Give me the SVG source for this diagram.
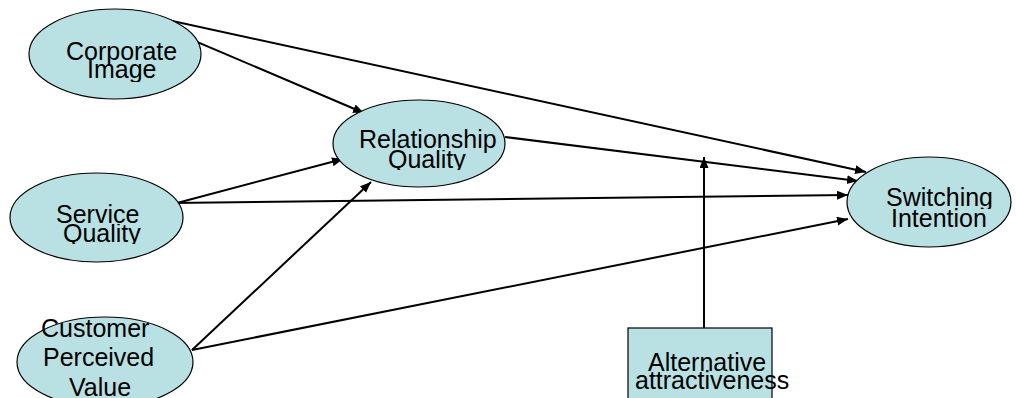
<svg xmlns="http://www.w3.org/2000/svg" width="1016" height="398" viewBox="0 0 1016 398">
<style>
.node{fill:#B9E0E3;stroke:#000;stroke-width:1.2}
.lbl{font-family:"Liberation Sans",Arial,sans-serif;font-size:25px;fill:#000}
.edge{stroke:#000;stroke-width:2;fill:none;marker-end:url(#arr)}
</style>
<defs>
<marker id="arr" markerUnits="userSpaceOnUse" markerWidth="12" markerHeight="10" refX="11" refY="4.5" orient="auto">
<path d="M0,0 L11,4.5 L0,9 z" fill="#000"/>
</marker>
<clipPath id="cImage"><rect x="0" y="60" width="300" height="22"/></clipPath>
<clipPath id="cRQ"><rect x="300" y="150" width="250" height="20"/></clipPath>
<clipPath id="cSQ"><rect x="0" y="224" width="250" height="20"/></clipPath>
<clipPath id="cSw"><rect x="800" y="180" width="216" height="29"/></clipPath>
</defs>
<rect width="1016" height="398" fill="#fff"/>
<g id="connectors">
<line class="edge" x1="122" y1="10" x2="364" y2="113"/>
<line class="edge" x1="122" y1="10" x2="866" y2="172"/>
<line class="edge" x1="505" y1="137" x2="858" y2="181"/>
<line class="edge" x1="177" y1="203" x2="343" y2="159"/>
<line class="edge" x1="172" y1="203" x2="848" y2="195"/>
<line class="edge" x1="192" y1="350" x2="371" y2="182"/>
<line class="edge" x1="192" y1="350" x2="848" y2="219"/>
<line class="edge" x1="704" y1="328" x2="704" y2="157"/>
</g>
<g id="corporate-image">
<ellipse class="node" cx="115" cy="54" rx="86" ry="45"/>
<text class="lbl" x="66" y="60">Corporate</text>
<text class="lbl" x="87" y="78" clip-path="url(#cImage)">Image</text>
</g>
<g id="relationship-quality">
<ellipse class="node" cx="419" cy="143.5" rx="86" ry="43.5"/>
<text class="lbl" x="359" y="148">Relationship</text>
<text class="lbl" x="388" y="168" clip-path="url(#cRQ)">Quality</text>
</g>
<g id="service-quality">
<ellipse class="node" cx="96.5" cy="217.5" rx="86.5" ry="44.5"/>
<text class="lbl" x="56" y="223">Service</text>
<text class="lbl" x="63" y="242" clip-path="url(#cSQ)">Quality</text>
</g>
<g id="customer-perceived-value">
<ellipse class="node" cx="105" cy="362" rx="88" ry="45"/>
<text class="lbl" x="41" y="337">Customer</text>
<text class="lbl" x="43" y="366">Perceived</text>
<text class="lbl" x="69" y="396">Value</text>
</g>
<g id="switching-intention">
<ellipse class="node" cx="929" cy="202" rx="82" ry="45"/>
<text class="lbl" x="886" y="206" clip-path="url(#cSw)">Switching</text>
<text class="lbl" x="891" y="227">Intention</text>
</g>
<g id="alternative-attractiveness">
<rect class="node" x="628" y="328" width="144" height="80"/>
<text class="lbl" x="648" y="371">Alternative</text>
<text class="lbl" x="635" y="389">attractiveness</text>
</g>
</svg>
